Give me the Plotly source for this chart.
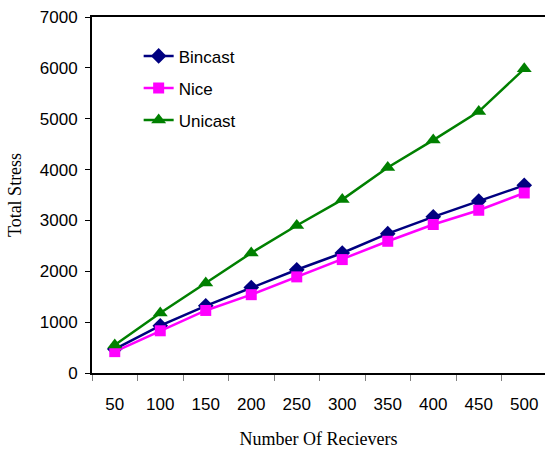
import plotly.graph_objects as go

receivers = ["50", "100", "150", "200", "250", "300", "350", "400", "450", "500"]
bincast = [470, 930, 1320, 1680, 2030, 2360, 2740, 3070, 3380, 3690]
nice = [420, 830, 1230, 1540, 1890, 2230, 2590, 2920, 3200, 3540]
unicast = [550, 1180, 1770, 2360, 2900, 3410, 4040, 4580, 5140, 5980]

series = [
    ("Bincast", bincast, "#000080", "diamond", 12),
    ("Nice", nice, "#FF00FF", "square", 11),
    ("Unicast", unicast, "#008000", "triangle-up", 13),
]

fig = go.Figure()
for i, (name, vals, color, symbol, size) in enumerate(series):
    fig.add_trace(go.Scatter(
        x=receivers, y=vals, name=name, mode="lines+markers",
        line=dict(color=color, width=2.5),
        marker=dict(symbol=symbol, size=size, color=color),
        legendgroup=f"g{i}",
    ))

fig.update_layout(
    width=545, height=449,
    margin=dict(l=92, r=0, t=17, b=76),
    plot_bgcolor="white", paper_bgcolor="white",
    showlegend=True,
    legend=dict(
        x=0.103, y=0.94, xanchor="left", yanchor="top",
        font=dict(family="Liberation Sans, Arial", size=17, color="black"),
        bgcolor="rgba(0,0,0,0)", traceorder="grouped", tracegroupgap=7,
    ),
    xaxis=dict(
        type="category", range=[-0.5, 9.456], automargin=False,
        tickson="boundaries", ticks="outside", ticklen=6, tickcolor="#808080",
        ticklabelstandoff=15,
        showline=True, linecolor="black", linewidth=2, mirror=True,
        showgrid=False, zeroline=False,
        tickfont=dict(family="Liberation Sans, Arial", size=17, color="black"),
        title=dict(text="Number Of Recievers", standoff=22,
                   font=dict(family="Liberation Serif, Times New Roman", size=18, color="black")),
    ),
    yaxis=dict(
        range=[0, 7000], dtick=1000, tick0=0, automargin=False,
        ticks="outside", ticklen=5, tickcolor="black",
        ticklabelstandoff=4,
        showline=True, linecolor="black", linewidth=2,
        showgrid=False, zeroline=False,
        tickfont=dict(family="Liberation Sans, Arial", size=17, color="black"),
        title=dict(text="Total Stress", standoff=13,
                   font=dict(family="Liberation Serif, Times New Roman", size=18, color="black")),
    ),
)

fig.write_html("out.html")
